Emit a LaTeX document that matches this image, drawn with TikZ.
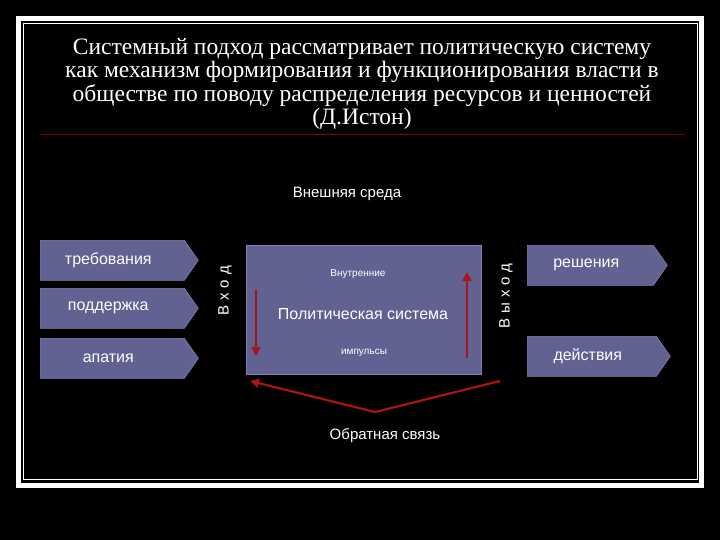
\documentclass[tikz,border=0pt]{standalone}
\usepackage{fontspec}
\setmainfont{Liberation Serif}
\newfontfamily\arialf{Liberation Sans}
\usetikzlibrary{shapes.symbols,arrows.meta}
\definecolor{slate}{RGB}{98,98,146}
\definecolor{slateb}{RGB}{130,130,175}
\definecolor{darr}{RGB}{170,20,20}
\tikzset{
 sig/.style={signal, signal to=east, signal pointer angle=110, fill=slate, draw=slateb, line width=0.6pt, text=white, font=\arialf\fontsize{16}{18}\selectfont, inner sep=0pt, anchor=north west},
 redarr/.style={draw=darr, line width=2.2pt, -{Triangle[length=9pt,width=9pt]}},
 wt/.style={text=white, inner sep=0pt}
}
\begin{document}
\begin{tikzpicture}[x=1pt,y=-1pt]
\useasboundingbox (0,0) rectangle (720,540);
\fill[black] (0,0) rectangle (720,540);
\draw[white, line width=5pt] (18.5,18.5) rectangle (701.5,485.5);
\draw[white, line width=0.8pt] (23,23) rectangle (697,479);
\draw[red!50!black, line width=1pt] (40,135) -- (685,135);
\node[wt, align=center, font=\fontsize{23.5}{23.5}\selectfont] (title) at (362,84)
 {Системный подход рассматривает политическую систему\\как механизм формирования и функционирования власти в\\обществе по поводу распределения ресурсов и ценностей\\(Д.Истон)};
\node[wt, font=\arialf\fontsize{15}{16}\selectfont] (env) at (347,194) {Внешняя среда};
\node[sig, minimum width=158pt, minimum height=40pt] (t) at (40,240) {\hspace*{-8pt}требования};
\node[sig, minimum width=158pt, minimum height=40pt] (p) at (40,288) {\hspace*{-8pt}поддержка};
\node[sig, minimum width=158pt, minimum height=40pt] (a) at (40,338) {\hspace*{-8pt}апатия};
\node[sig, minimum width=140pt, minimum height=40pt] (r) at (527,245) {\hspace*{-8pt}решения};
\node[sig, minimum width=143pt, minimum height=40pt] (d) at (527,336) {\hspace*{-8pt}действия};
\node[fill=slate, draw=slateb, line width=0.6pt, minimum width=235pt, minimum height=129pt, anchor=north west, inner sep=0pt] (sys) at (246,245) {};
\node[wt, font=\arialf\fontsize{16}{18}\selectfont] (ps) at (363,314) {Политическая система};
\node[wt, font=\arialf\fontsize{10}{11}\selectfont] (vn) at (358,274) {Внутренние};
\node[wt, font=\arialf\fontsize{10}{11}\selectfont] (im) at (364,353) {импульсы};
\node[wt, rotate=90, font=\arialf\fontsize{15}{16}\selectfont] (vh) at (225,291) {В\hspace{5pt}х\hspace{5pt}о\hspace{5pt}д};
\node[wt, rotate=90, font=\arialf\fontsize{15}{16}\selectfont] (vyh) at (506,296) {В\hspace{5pt}ы\hspace{5pt}х\hspace{5pt}о\hspace{5pt}д};
\coordinate (d1) at (256,290); \coordinate (d2) at (256,356);
\coordinate (u1) at (467,358); \coordinate (u2) at (467,272);
\draw[redarr] (d1) -- (d2);
\draw[redarr] (u1) -- (u2);
\coordinate (f1) at (500,381); \coordinate (f2) at (375,412); \coordinate (f3) at (250,381);
\draw[redarr, -] (f1) -- (f2);
\draw[redarr] (f2) -- (f3);
\node[wt, font=\arialf\fontsize{15}{16}\selectfont] (fb) at (385,436) {Обратная связь};
\end{tikzpicture}
\end{document}
